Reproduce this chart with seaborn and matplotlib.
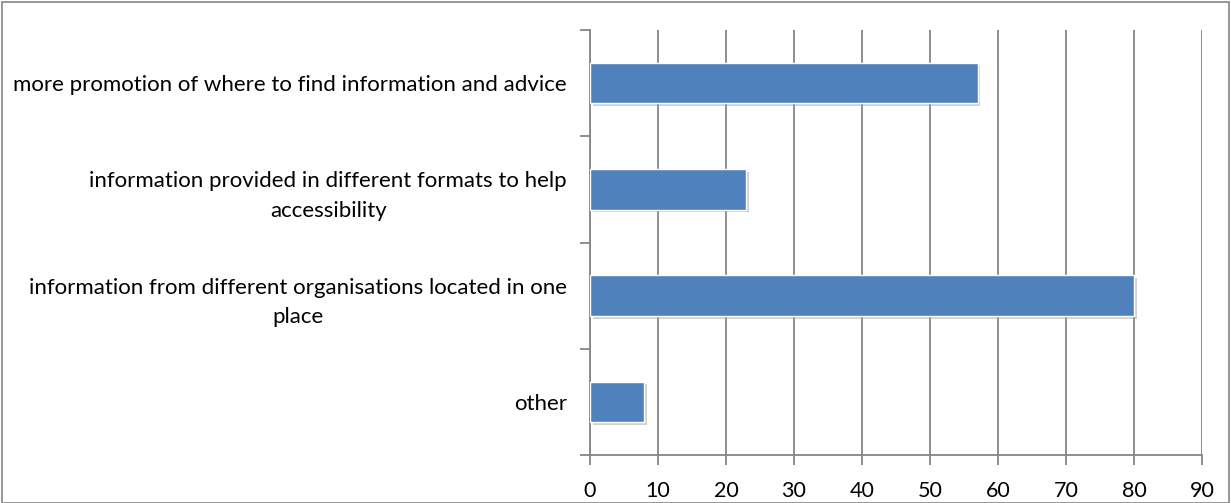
import matplotlib
matplotlib.use("Agg")
import matplotlib.pyplot as plt
import matplotlib.patheffects as pe
from matplotlib.patches import Rectangle
import seaborn as sns
import pandas as pd

categories = [
    "more promotion of where to find information and advice",
    "information provided in different formats to help\naccessibility",
    "information from different organisations located in one\nplace",
    "other",
]
values = [57, 23, 80, 8]
x_ticks = [0, 10, 20, 30, 40, 50, 60, 70, 80, 90]

sns.set_theme(style="white")
plt.rcParams["font.family"] = ["Lato", "DejaVu Sans"]

df = pd.DataFrame({"category": categories, "value": values})

fig = plt.figure(figsize=(12.31, 5.03), dpi=100)
ax = fig.add_axes([590 / 1231, 48 / 503, 612 / 1231, 425 / 503])

grid_col = "#868686"
sns.barplot(data=df, x="value", y="category", ax=ax, color="#4F81BD",
            saturation=1, width=0.38, edgecolor="white", linewidth=1.0,
            zorder=3)
for bar in ax.patches:
    bar.set_path_effects([pe.SimplePatchShadow(offset=(2, -2), shadow_rgbFace="#999999", alpha=0.45),
                          pe.Normal()])

ax.set_xlim(0, 90)
ax.set_ylim(len(categories) - 0.5, -0.5)
ax.set_xticks(x_ticks)
ax.set_xticklabels([str(t) for t in x_ticks], fontsize=15.5, color="black")
ax.xaxis.grid(True, color=grid_col, linewidth=1.3, zorder=0)
ax.set_axisbelow(True)

# category boundaries as ticks on the value axis
ax.set_yticks([i - 0.5 for i in range(len(categories) + 1)], minor=False)
ax.set_yticklabels([])
ax.set_yticks(range(len(categories)), minor=True)
ax.set_yticklabels(categories, minor=True, fontsize=16, color="black",
                   multialignment="center", linespacing=1.6)
ax.tick_params(axis="y", which="minor", length=0, pad=16.5)
ax.tick_params(axis="y", which="major", length=7, width=1.3, color=grid_col, left=True)
ax.tick_params(axis="x", length=7, width=1.3, color=grid_col, bottom=True, pad=12)

ax.set_xlabel("")
ax.set_ylabel("")
for side in ["top", "right"]:
    ax.spines[side].set_visible(False)
for side in ["left", "bottom"]:
    ax.spines[side].set_color(grid_col)
    ax.spines[side].set_linewidth(1.3)

fig.patches.append(Rectangle((2 / 1231, 0), 1227 / 1231, 501 / 503,
                             transform=fig.transFigure, fill=False,
                             edgecolor="#868686", linewidth=1.2))

fig.savefig("out.png", dpi=100, facecolor="white")
